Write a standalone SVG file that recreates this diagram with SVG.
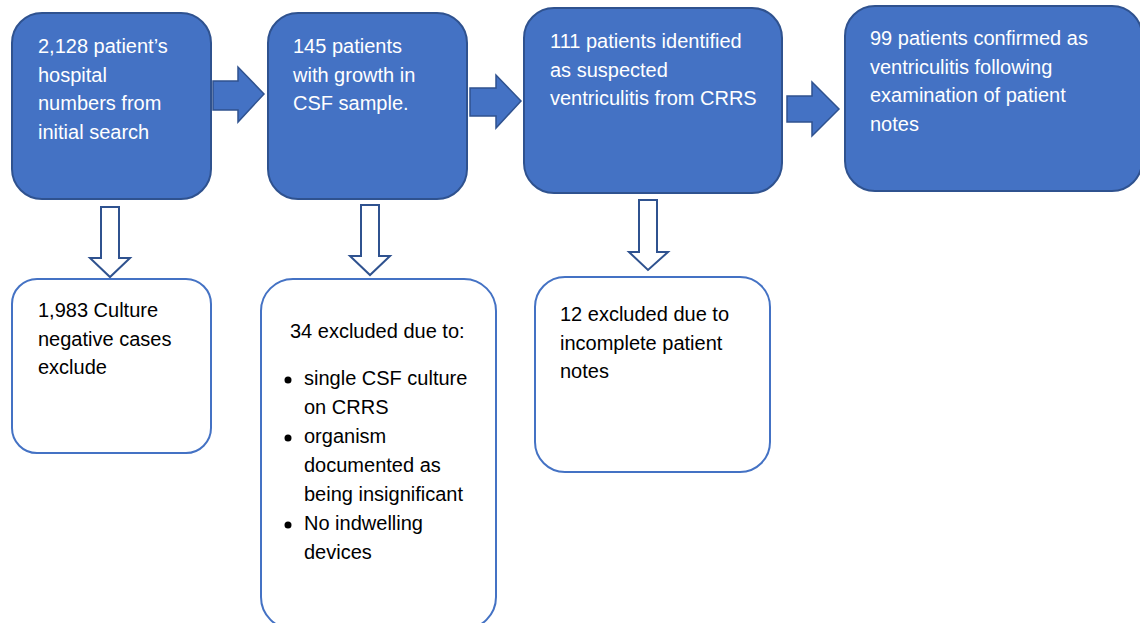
<svg xmlns="http://www.w3.org/2000/svg" width="1140" height="623" viewBox="0 0 1140 623">
<style>
.bb{fill:#4472C4;stroke:#2F528F;stroke-width:2}
.wb{fill:#fff;stroke:#4472C4;stroke-width:2}
.fa{fill:#4472C4;stroke:#2F528F;stroke-width:1.5}
.ha{fill:#fff;stroke:#2F528F;stroke-width:2}
text{font-family:"Liberation Sans",Arial,sans-serif;font-size:20px}
.w{fill:#fff}
.k{fill:#000}
</style>
<rect width="1140" height="623" fill="#fff"/>
<g id="connectors">
<polygon class="fa" points="213,81 238,81 238,67 264,94 238,122 238,110 213,110"/>
<polygon class="fa" points="470,88 496,88 496,75 521,101 496,128 496,116 470,116"/>
<polygon class="fa" points="787,96 812,96 812,82 839,109 812,136 812,122 787,122"/>
<polygon class="ha" points="101,207 119,207 119,258 130,258 110,277 90,258 101,258"/>
<polygon class="ha" points="361,205 379,205 379,256 390,256 370,275 350,256 361,256"/>
<polygon class="ha" points="639,200 657,200 657,252 668,252 648,270 629,252 639,252"/>
</g>
<g id="n1">
<rect class="bb" x="12" y="13" width="199" height="186" rx="30"/>
<text class="w" x="38" y="53">2,128 patient’s</text>
<text class="w" x="38" y="82">hospital</text>
<text class="w" x="38" y="110">numbers from</text>
<text class="w" x="38" y="139">initial search</text>
</g>
<g id="n2">
<rect class="bb" x="268" y="13" width="199" height="186" rx="30"/>
<text class="w" x="293" y="53">145 patients</text>
<text class="w" x="293" y="82">with growth in</text>
<text class="w" x="293" y="110">CSF sample.</text>
</g>
<g id="n3">
<rect class="bb" x="524" y="8" width="258" height="185" rx="30"/>
<text class="w" x="550" y="48">111 patients identified</text>
<text class="w" x="550" y="77">as suspected</text>
<text class="w" x="550" y="105">ventriculitis from CRRS</text>
</g>
<g id="n4">
<rect class="bb" x="845" y="6" width="297" height="185" rx="30"/>
<text class="w" x="870" y="45">99 patients confirmed as</text>
<text class="w" x="870" y="74">ventriculitis following</text>
<text class="w" x="870" y="102">examination of patient</text>
<text class="w" x="870" y="131">notes</text>
</g>
<g id="n5">
<rect class="wb" x="12" y="279" width="199" height="174" rx="25"/>
<text class="k" x="38" y="317">1,983 Culture</text>
<text class="k" x="38" y="346">negative cases</text>
<text class="k" x="38" y="374">exclude</text>
</g>
<g id="n6">
<rect class="wb" x="261" y="279" width="235" height="350" rx="32"/>
<text class="k" x="290" y="338">34 excluded due to:</text>
<circle cx="288" cy="380" r="3.5" fill="#000"/>
<text class="k" x="304" y="385">single CSF culture</text>
<text class="k" x="304" y="414">on CRRS</text>
<circle cx="288" cy="438" r="3.5" fill="#000"/>
<text class="k" x="304" y="443">organism</text>
<text class="k" x="304" y="472">documented as</text>
<text class="k" x="304" y="501">being insignificant</text>
<circle cx="288" cy="525" r="3.5" fill="#000"/>
<text class="k" x="304" y="530">No indwelling</text>
<text class="k" x="304" y="559">devices</text>
</g>
<g id="n7">
<rect class="wb" x="535" y="277" width="235" height="195" rx="30"/>
<text class="k" x="560" y="321">12 excluded due to</text>
<text class="k" x="560" y="350">incomplete patient</text>
<text class="k" x="560" y="378">notes</text>
</g>
</svg>
